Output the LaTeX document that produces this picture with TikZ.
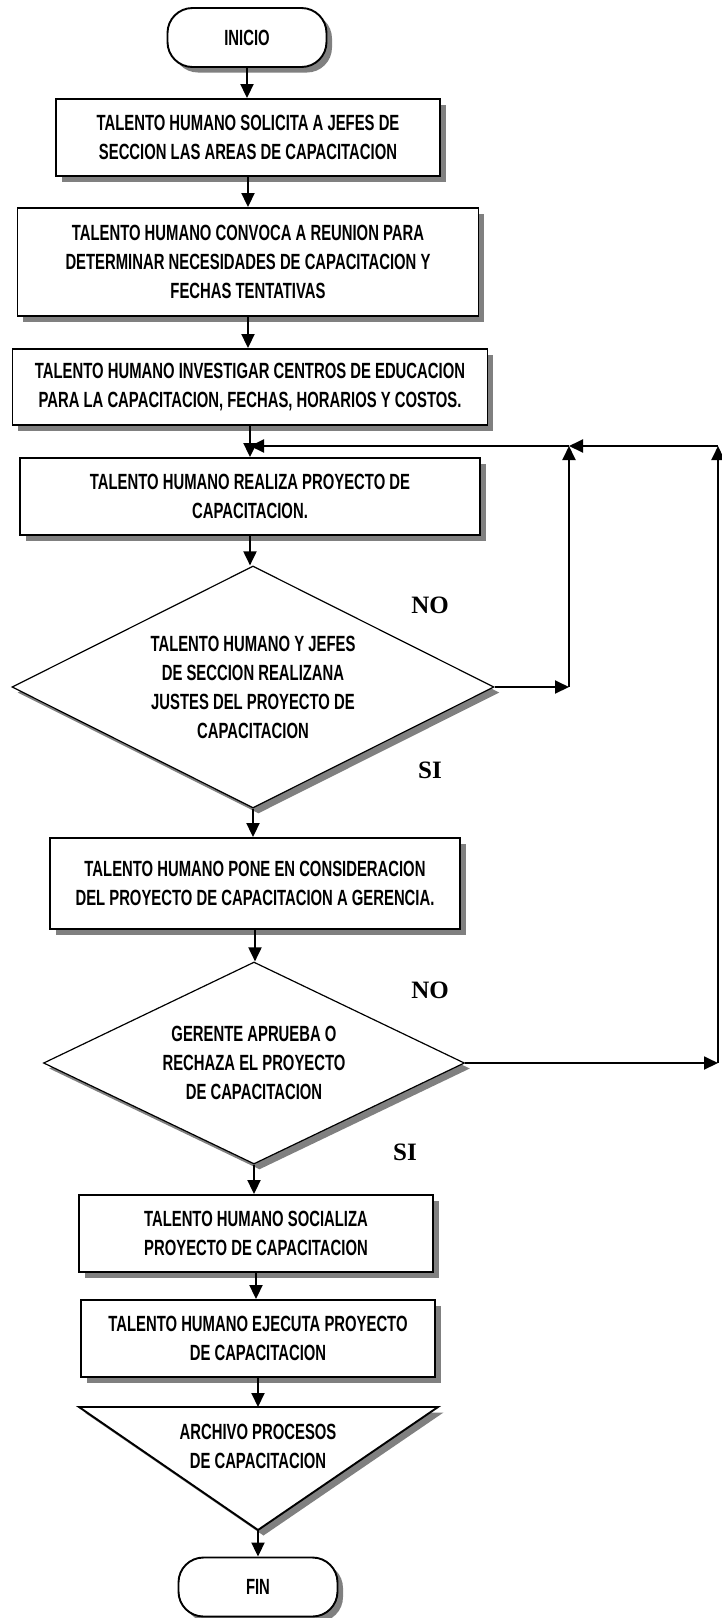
\documentclass[tikz,border=0pt]{standalone}
\usepackage{fontspec}
\setmainfont{Liberation Sans}[FakeStretch=0.675]
\newfontfamily\rotulo{Liberation Serif}
\usetikzlibrary{shapes.geometric, arrows.meta, shadows}

\begin{document}
\begin{tikzpicture}[
  x=1pt, y=-1pt,
  every node/.style={font=\bfseries\fontsize{22}{29}\selectfont},
  sombra/.style={drop shadow={shadow xshift=5.5pt, shadow yshift=-5.5pt, fill=black!50, opacity=1}},
  proceso/.style={rectangle, draw=black, line width=1.9pt, fill=white, sombra, inner sep=0pt, align=center},
  terminal/.style={rectangle, rounded corners=25pt, draw=black, line width=1.9pt, fill=white, sombra, minimum width=159pt, minimum height=59pt},
  decision/.style={diamond, aspect=2, draw=black, line width=1.2pt, fill=white, sombra, inner sep=0pt, align=center},
  flecha/.style={line width=1.9pt, -{Triangle[length=14pt, width=13pt]}},
  etiqueta/.style={font=\rotulo\bfseries\fontsize{25}{25}\selectfont}
]
  \useasboundingbox (0,0) rectangle (721,1618);

  \node[terminal] (inicio) at (247,37.5) {INICIO};
  \node[proceso, minimum width=384pt, minimum height=77pt] (solicita) at (248,137.5)
    {TALENTO HUMANO SOLICITA A JEFES DE\\SECCION LAS AREAS DE CAPACITACION};
  \node[proceso, minimum width=461pt, minimum height=108pt] (convoca) at (248,262)
    {TALENTO HUMANO CONVOCA A REUNION PARA\\DETERMINAR NECESIDADES DE CAPACITACION Y\\FECHAS TENTATIVAS};
  \node[proceso, minimum width=475pt, minimum height=76pt] (investiga) at (250,387)
    {TALENTO HUMANO INVESTIGAR CENTROS DE EDUCACION\\PARA LA CAPACITACION, FECHAS, HORARIOS Y COSTOS.};
  \node[proceso, minimum width=460pt, minimum height=77pt] (realiza) at (250,496.5)
    {TALENTO HUMANO REALIZA PROYECTO DE\\CAPACITACION.};
  \node[decision, minimum width=482pt, minimum height=242pt] (ajustes) at (253,687)
    {TALENTO HUMANO Y JEFES\\DE SECCION REALIZANA\\JUSTES DEL PROYECTO DE\\CAPACITACION};
  \node[proceso, minimum width=410pt, minimum height=91pt] (consideracion) at (255,883.5)
    {TALENTO HUMANO PONE EN CONSIDERACION\\DEL PROYECTO DE CAPACITACION A GERENCIA.};
  \node[decision, minimum width=421pt, minimum height=202pt] (aprueba) at (254,1063)
    {GERENTE APRUEBA O\\RECHAZA EL PROYECTO\\DE CAPACITACION};
  \node[proceso, minimum width=354pt, minimum height=77pt] (socializa) at (256,1233.5)
    {TALENTO HUMANO SOCIALIZA\\PROYECTO DE CAPACITACION};
  \node[proceso, minimum width=354pt, minimum height=77pt] (ejecuta) at (258,1338.5)
    {TALENTO HUMANO EJECUTA PROYECTO\\DE CAPACITACION};

  % archivo (triangulo invertido)
  \coordinate (arch-izq) at (79,1407);
  \coordinate (arch-der) at (438,1407);
  \coordinate (arch-fondo) at (258,1530);
  \draw[line width=1.9pt, fill=white, sombra] (arch-izq) -- (arch-der) -- (arch-fondo) -- cycle;
  \node[align=center] (archivo) at (258,1446) {ARCHIVO PROCESOS\\DE CAPACITACION};

  \node[terminal] (fin) at (258,1587) {FIN};

  % flujo principal
  \draw[flecha] (inicio.south) -- (inicio.south |- solicita.north);
  \draw[flecha] (solicita.south) -- (solicita.south |- convoca.north);
  \draw[flecha] (convoca.south) -- (convoca.south |- investiga.north);
  \draw[flecha] (investiga.south) -- (investiga.south |- realiza.north);
  \draw[flecha] (realiza.south) -- (realiza.south |- ajustes.north);
  \draw[flecha] (ajustes.south) -- (ajustes.south |- consideracion.north);
  \draw[flecha] (consideracion.south) -- (consideracion.south |- aprueba.north);
  \draw[flecha] (aprueba.south) -- (aprueba.south |- socializa.north);
  \draw[flecha] (socializa.south) -- (socializa.south |- ejecuta.north);
  \draw[flecha] (ejecuta.south) -- (ejecuta.south |- arch-izq);
  \draw[flecha] (arch-fondo) -- (fin.north);

  % retornos
  \coordinate (ret-int) at (569,446);
  \coordinate (ret-ext) at (718,446);
  \draw[flecha] (ajustes.east) -- (ajustes.east -| ret-int);
  \draw[flecha] (ajustes.east -| ret-int) -- (ret-int);
  \draw[flecha] (ret-int) -- (ret-int -| realiza.north);
  \draw[flecha] (aprueba.east) -- (aprueba.east -| ret-ext);
  \draw[flecha] (aprueba.east -| ret-ext) -- (ret-ext);
  \draw[flecha] (ret-ext) -- (ret-int);

  \node[etiqueta] (no-1) at (430,605) {NO};
  \node[etiqueta] (si-1) at (430,770) {SI};
  \node[etiqueta] (no-2) at (430,990) {NO};
  \node[etiqueta] (si-2) at (405,1152) {SI};
\end{tikzpicture}
\end{document}
